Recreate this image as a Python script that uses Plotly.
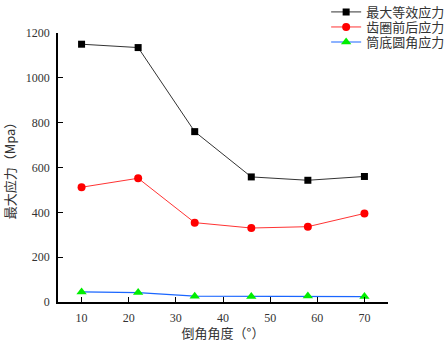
import plotly.graph_objects as go

angles = [10, 22, 34, 46, 58, 70]
max_equiv = [1150, 1135, 760, 558, 543, 560]
ring_stress = [512, 552, 354, 330, 336, 395]
bottom_stress = [45, 42, 26, 25, 27, 24]
names = ["最大等效应力", "齿圈前后应力", "筒底圆角应力"]

cjk = "Noto Sans CJK SC"
serif = "Liberation Serif, Times New Roman, serif"

fig = go.Figure()
fig.add_trace(go.Scatter(x=angles, y=max_equiv, name=names[0], mode="lines+markers",
                         line=dict(color="#333333", width=1), legend="legend",
                         marker=dict(symbol="square", size=7, color="black")))
fig.add_trace(go.Scatter(x=angles, y=ring_stress, name=names[1], mode="lines+markers",
                         line=dict(color="#ff3333", width=1), legend="legend2",
                         marker=dict(symbol="circle", size=8, color="red")))
fig.add_trace(go.Scatter(x=angles, y=bottom_stress, name=names[2], mode="lines+markers",
                         line=dict(color="#1a66ff", width=1.2), legend="legend3",
                         marker=dict(symbol="triangle-up", size=9, color="#00ee00")))

leg_common = dict(x=0.728, xanchor="left", yanchor="middle", xref="container", yref="container",
                  font=dict(family=cjk, size=13, color="#333333"),
                  bgcolor="rgba(0,0,0,0)", borderwidth=0)

fig.update_layout(
    width=448, height=342,
    margin=dict(l=58, r=60, t=33, b=40, autoexpand=False),
    paper_bgcolor="white", plot_bgcolor="white",
    font=dict(family=serif, size=12, color="#333333"),
    showlegend=True,
    legend=dict(y=0.965, **leg_common),
    legend2=dict(y=0.921, **leg_common),
    legend3=dict(y=0.877, **leg_common),
    xaxis=dict(range=[5, 75], tickvals=[10, 20, 30, 40, 50, 60, 70], automargin=False,
               showline=True, linecolor="black", linewidth=1.5,
               ticks="inside", ticklen=5, tickcolor="black", ticklabelstandoff=4,
               showgrid=False, zeroline=False,
               tickfont=dict(family=serif, size=12, color="#333333"),
               title=dict(text="倒角角度（°）", font=dict(family=cjk, size=13, color="#333333"), standoff=6)),
    yaxis=dict(range=[0, 1200], tickvals=[0, 200, 400, 600, 800, 1000, 1200], automargin=False,
               showline=True, linecolor="black", linewidth=1.5,
               ticks="inside", ticklen=5, tickcolor="black", ticklabelstandoff=4,
               showgrid=False, zeroline=False,
               tickfont=dict(family=serif, size=12, color="#333333"),
               title=dict(text="最大应力（Mpa）", font=dict(family=cjk, size=13, color="#333333"), standoff=12)),
)

fig.write_html("out.html", config={"displayModeBar": False},
               post_script="document.body.style.margin='0';document.body.style.overflow='hidden';")
